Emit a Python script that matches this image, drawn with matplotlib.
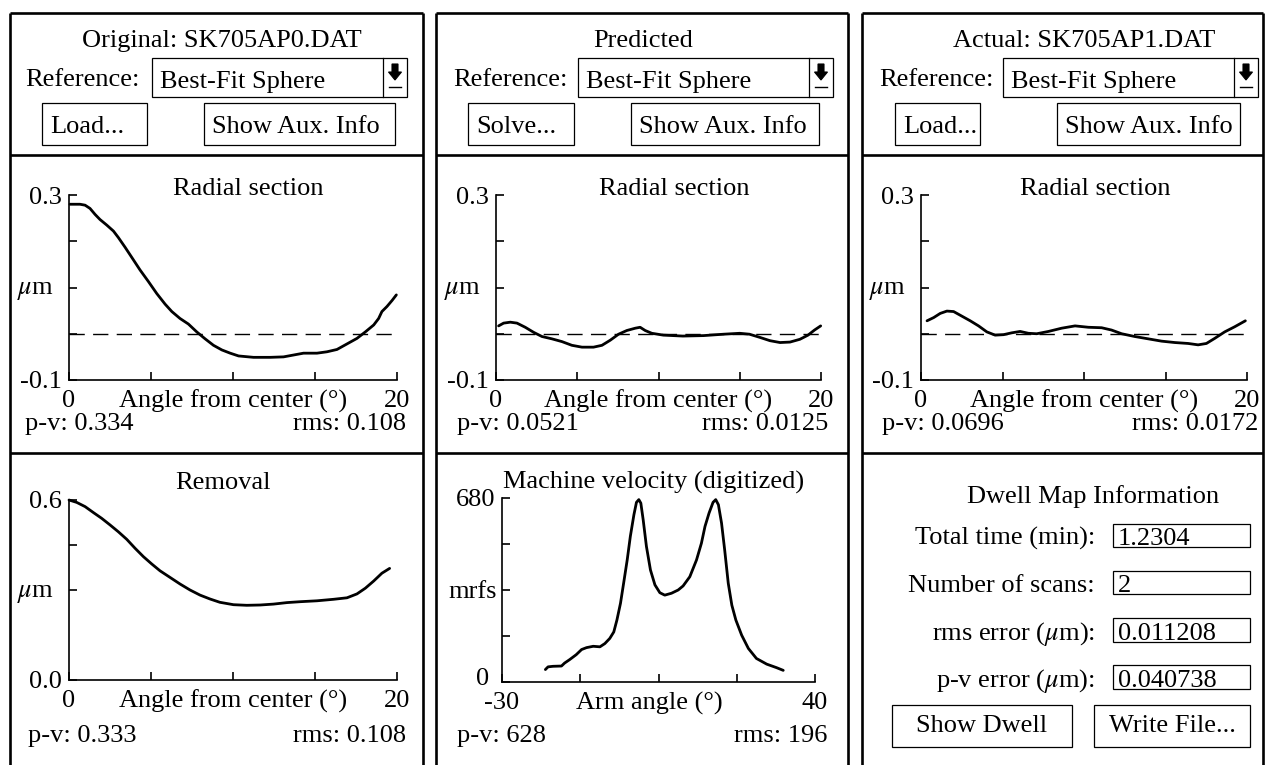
import matplotlib
matplotlib.use('Agg')
import matplotlib.pyplot as plt
from matplotlib.patches import Rectangle, Polygon

plt.rcParams['font.family'] = ['Liberation Serif', 'DejaVu Serif']
plt.rcParams['mathtext.fontset'] = 'stix'

W, H = 1265, 765
FS = 19

# ---------------- data ----------------
header_titles = ["Original: SK705AP0.DAT", "Predicted", "Actual: SK705AP1.DAT"]
reference_choice = "Best-Fit Sphere"
left_buttons = ["Load...", "Solve...", "Load..."]

radial_xlabel = "Angle from center (°)"
radial_yticks = [-0.1, 0.0, 0.1, 0.2, 0.3]
radial_yticklabels = ["-0.1", "", "", "", "0.3"]
radial_xticks = [0, 5, 10, 15, 20]
radial_xticklabels = ["0", "", "", "", "20"]

orig_x = [0.06, 0.67, 0.98, 1.28, 1.59, 1.89, 2.3, 2.71, 3.01, 3.42, 3.83, 4.33, 4.84, 5.35,
          5.86, 6.27, 6.77, 7.28, 7.79, 8.3, 8.81, 9.32, 9.83, 10.34, 11.25, 12.27, 13.08,
          13.69, 14.3, 15.12, 15.73, 16.34, 16.95, 17.56, 18.07, 18.58, 18.88, 19.08, 19.39,
          19.7, 19.96]
orig_y = [0.280, 0.280, 0.278, 0.271, 0.258, 0.247, 0.235, 0.222, 0.208, 0.187, 0.165, 0.138,
          0.113, 0.087, 0.064, 0.048, 0.033, 0.021, 0.004, -0.011, -0.025, -0.035, -0.042,
          -0.048, -0.051, -0.051, -0.050, -0.046, -0.042, -0.042, -0.039, -0.034, -0.022,
          -0.010, 0.004, 0.019, 0.033, 0.048, 0.059, 0.072, 0.084]

pred_x = [0.16, 0.47, 0.88, 1.29, 1.8, 2.32, 2.83, 3.44, 4.06, 4.67, 5.29, 6.0, 6.52, 7.03,
          7.54, 8.05, 8.57, 8.87, 9.18, 9.59, 10.3, 11.5, 12.77, 14.0, 15.0, 15.6, 16.25,
          16.86, 17.48, 18.09, 18.7, 19.2, 19.6, 19.98]
pred_y = [0.017, 0.023, 0.025, 0.023, 0.014, 0.003, -0.006, -0.011, -0.017, -0.025, -0.029,
          -0.029, -0.025, -0.014, -0.001, 0.007, 0.012, 0.014, 0.007, 0.001, -0.003, -0.005,
          -0.004, -0.001, 0.001, -0.001, -0.008, -0.015, -0.019, -0.018, -0.012, -0.003,
          0.008, 0.017]

actual_x = [0.37, 0.78, 1.18, 1.59, 2.0, 2.51, 3.02, 3.53, 4.04, 4.55, 5.06, 5.57, 6.08, 6.59,
            7.1, 7.82, 8.63, 9.45, 10.27, 11.08, 11.69, 12.31, 13.12, 13.94, 14.76, 15.57,
            16.39, 17.0, 17.51, 18.02, 18.63, 19.24, 19.9]
actual_y = [0.028, 0.035, 0.044, 0.049, 0.048, 0.038, 0.028, 0.017, 0.004, -0.003, -0.002,
            0.002, 0.005, 0.001, 0.0, 0.005, 0.012, 0.017, 0.014, 0.013, 0.008, 0.0, -0.006,
            -0.011, -0.016, -0.019, -0.021, -0.024, -0.021, -0.010, 0.004, 0.015, 0.028]

radial_pv = ["0.334", "0.0521", "0.0696"]
radial_rms = ["0.108", "0.0125", "0.0172"]

removal_x = [0.0, 0.47, 0.98, 1.49, 1.99, 2.5, 3.01, 3.52, 4.03, 4.54, 5.04, 5.55, 6.16, 6.77,
             7.38, 7.99, 8.6, 9.2, 10.03, 10.84, 11.66, 12.47, 13.29, 14.1, 15.12, 16.13,
             16.95, 17.56, 18.07, 18.58, 19.08, 19.55]
removal_y = [0.6, 0.592, 0.578, 0.558, 0.539, 0.517, 0.494, 0.469, 0.439, 0.411, 0.387, 0.364,
             0.342, 0.32, 0.3, 0.283, 0.27, 0.259, 0.251, 0.249, 0.25, 0.253, 0.258, 0.261,
             0.264, 0.269, 0.274, 0.287, 0.306, 0.330, 0.356, 0.372]
removal_yticks = [0.0, 0.3, 0.45, 0.6]
removal_yticklabels = ["0.0", "", "", "0.6"]
removal_pv, removal_rms = "0.333", "0.108"

vel_x = [-20.3, -19.7, -18.6, -16.7, -16.0, -14.85, -13.4, -12.2, -11.1, -9.6, -8.1, -7.0,
         -5.9, -5.0, -4.3, -3.5, -2.8, -2.0, -1.3, -0.5, 0.07, 0.6, 1.05, 1.57, 2.3, 3.2, 4.2,
         5.3, 6.4, 7.9, 9.4, 10.5, 12.0, 13.5, 14.6, 15.4, 16.3, 17.2, 17.8, 18.4, 19.1, 19.8,
         20.6, 21.4, 22.3, 23.6, 25.1, 26.9, 29.2, 31.4, 32.9]
vel_y = [46, 56, 58, 59, 70, 83, 101, 120, 127, 132, 130, 142, 161, 185, 229, 291, 365, 451,
         538, 618, 664, 674, 661, 600, 501, 414, 359, 330, 321, 328, 340, 355, 389, 451, 513,
         575, 624, 664, 674, 655, 587, 488, 365, 284, 229, 173, 124, 87, 66, 53, 43]
vel_xticks = [-30, -12.5, 5, 22.5, 40]
vel_xticklabels = ["-30", "", "", "", "40"]
vel_yticks = [0, 170, 340, 510, 680]
vel_yticklabels = ["", "", "", "", "680"]
vel_pv, vel_rms = "628", "196"

dwell_labels = ["Total time (min):", "Number of scans:", r"rms error ($\mu$m):", r"p-v error ($\mu$m):"]
dwell_values = ["1.2304", "2", "0.011208", "0.040738"]

# ---------------- figure ----------------
fig = plt.figure(figsize=(W / 100, H / 100), dpi=100)
bg = fig.add_axes([0, 0, 1, 1])
bg.set_xlim(0, W)
bg.set_ylim(H, 0)
bg.axis('off')


def px_axes(x0, x1, y0, y1):
    ax = fig.add_axes([x0 / W, 1 - y1 / H, (x1 - x0) / W, (y1 - y0) / H])
    ax.set_facecolor('none')
    return ax


def txt(x, y, s, ha='left', va='baseline', size=FS):
    bg.text(x, y, s, ha=ha, va=va, fontsize=size, color='black')


def box(x0, x1, y0, y1, lw=0.9):
    bg.add_patch(Rectangle((x0, y0), x1 - x0, y1 - y0, fill=False, lw=lw, ec='black'))


# panel borders
cols = [(10, 423), (436, 848), (862, 1263)]
for (x0, x1) in cols:
    for x in (x0, x1):
        bg.plot([x, x], [13, H + 5], color='black', lw=1.9, solid_capstyle='butt')
    for y in (13, 155, 453):
        bg.plot([x0, x1], [y, y], color='black', lw=1.9, solid_capstyle='butt')

# header rows
title_cx = [222, 643, 1084]
ref_lx = [25, 453, 879]
drop_box = [(152, 407), (578, 833), (1003, 1258)]
btn_left = [(42, 147), (468, 574), (895, 980)]
btn_aux = [(204, 395), (631, 819), (1057, 1240)]
for i in range(3):
    txt(title_cx[i], 47, header_titles[i], ha='center')
    txt(ref_lx[i], 86, "Reference:")
    dx0, dx1 = drop_box[i]
    box(dx0, dx1, 58, 97)
    bg.plot([dx1 - 24, dx1 - 24], [58, 97], color='black', lw=0.9)
    txt(dx0 + 8, 88, reference_choice)
    cx = dx1 - 12
    bg.add_patch(Polygon([(cx - 3, 64), (cx + 3, 64), (cx + 3, 72), (cx + 6.5, 72),
                          (cx, 80), (cx - 6.5, 72), (cx - 3, 72)], closed=True,
                         fc='black', ec='black', lw=0.8))
    bg.plot([cx - 6, cx + 6], [87, 87], color='black', lw=1.0)
    bx0, bx1 = btn_left[i]
    box(bx0, bx1, 103, 145)
    txt(bx0 + 8, 133, left_buttons[i])
    ax0, ax1 = btn_aux[i]
    box(ax0, ax1, 103, 145)
    txt(ax0 + 8, 133, "Show Aux. Info")


def style(ax, xlim, ylim, xticks, xtl, yticks, ytl):
    for s in ('top', 'right'):
        ax.spines[s].set_visible(False)
    for s in ('left', 'bottom'):
        ax.spines[s].set_linewidth(1.2)
    ax.set_xlim(xlim)
    ax.set_ylim(ylim)
    ax.set_xticks(xticks)
    ax.set_xticklabels(xtl)
    ax.set_yticks(yticks)
    ax.set_yticklabels(ytl)
    ax.tick_params(direction='in', length=6, width=1.2, labelsize=FS)
    ax.tick_params(axis='x', pad=7)
    ax.tick_params(axis='y', pad=5)


def unit(ax, yval, s, off=-11, dy=0):
    ax.annotate(s, xy=(0, yval), xycoords=('axes fraction', 'data'), xytext=(off, dy),
                textcoords='offset points', ha='right', va='center_baseline', fontsize=FS)


def xlab(ax, s, xf=0.5):
    ax.annotate(s, xy=(xf, 0), xycoords='axes fraction', xytext=(0, -7),
                textcoords='offset points', ha='center', va='top', fontsize=FS)


def curve(ax, x, y):
    ax.plot(x, y, color='black', lw=2.0, clip_on=False,
            solid_joinstyle='round', solid_capstyle='round')


# radial sections
radial_axes_px = [(69, 397), (496, 821), (921, 1247)]
radial_title_cx = [248, 674, 1095]
pv_lx = [25, 457, 882]
rms_rx = [406, 828, 1258]
series = [(orig_x, orig_y), (pred_x, pred_y), (actual_x, actual_y)]
for i in range(3):
    x0, x1 = radial_axes_px[i]
    ax = px_axes(x0, x1, 195, 380)
    style(ax, (0, 20), (-0.1, 0.3), radial_xticks, radial_xticklabels,
          radial_yticks, radial_yticklabels)
    ax.axhline(0, color='black', lw=1.0, dashes=(11, 6))
    curve(ax, series[i][0], series[i][1])
    unit(ax, 0.1, r'$\mu$m')
    xlab(ax, radial_xlabel)
    txt(radial_title_cx[i], 195, "Radial section", ha='center')
    txt(pv_lx[i], 430, "p-v: " + radial_pv[i])
    txt(rms_rx[i], 430, "rms: " + radial_rms[i], ha='right')

# removal
ax = px_axes(69, 397, 500, 680)
style(ax, (0, 20), (0, 0.6), radial_xticks, radial_xticklabels,
      removal_yticks, removal_yticklabels)
curve(ax, removal_x, removal_y)
unit(ax, 0.3, r'$\mu$m')
xlab(ax, radial_xlabel)
txt(223, 489, "Removal", ha='center')
txt(28, 742, "p-v: " + removal_pv)
txt(406, 742, "rms: " + removal_rms, ha='right')

# machine velocity
ax = px_axes(502, 815, 498, 682)
style(ax, (-30, 40), (0, 680), vel_xticks, vel_xticklabels, vel_yticks, vel_yticklabels)
curve(ax, vel_x, vel_y)
unit(ax, 340, 'mrfs', off=-4)
unit(ax, vel_yticks[0], str(vel_yticks[0]), off=-9, dy=4)
xlab(ax, "Arm angle (°)", xf=0.47)
txt(654, 489, "Machine velocity (digitized)", ha='center')
txt(457, 742, "p-v: " + vel_pv)
txt(827, 742, "rms: " + vel_rms, ha='right')

# dwell map information
txt(1093, 503, "Dwell Map Information", ha='center')
row_boxes = [(524, 547), (571, 594), (618, 642), (665, 689)]
for i in range(4):
    y0, y1 = row_boxes[i]
    txt(1095, y1 - 2, dwell_labels[i], ha='right')
    box(1113, 1250, y0, y1)
    txt(1118, y1 - 2, dwell_values[i])
box(892, 1072, 705, 747)
txt(982, 732, "Show Dwell", ha='center')
box(1094, 1250, 705, 747)
txt(1172, 732, "Write File...", ha='center')

fig.savefig('out.png', dpi=100)
